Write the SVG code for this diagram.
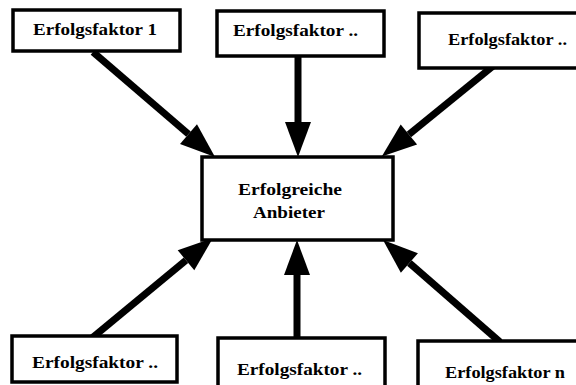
<svg xmlns="http://www.w3.org/2000/svg" width="576" height="385" viewBox="0 0 576 385">
  <style>
    .box { fill: #ffffff; stroke: #000000; stroke-width: 3.5; }
    .lbl { font-family: "Liberation Serif", "DejaVu Serif", serif; font-size: 16px; font-weight: bold; fill: #000000; }
    .arrow { stroke: #000000; stroke-width: 7; fill: none; marker-end: url(#head); }
  </style>
  <defs>
    <marker id="head" markerUnits="userSpaceOnUse" markerWidth="36" markerHeight="27" refX="0" refY="13" orient="auto" overflow="visible">
      <path d="M0,0 L35,13 L0,26 Z" fill="#000000"/>
    </marker>
  </defs>
  <rect width="576" height="385" fill="#ffffff"/>

  <g id="connectors">
    <line class="arrow" x1="93" y1="52" x2="188.5" y2="134.2"/>
    <line class="arrow" x1="298" y1="57" x2="298" y2="122"/>
    <line class="arrow" x1="498" y1="62" x2="408.9" y2="134.5"/>
    <line class="arrow" x1="92" y1="338" x2="186" y2="260.3"/>
    <line class="arrow" x1="297" y1="338" x2="297" y2="275"/>
    <line class="arrow" x1="500" y1="342" x2="409.4" y2="263"/>
  </g>

  <g id="faktor-1">
    <rect class="box" x="13" y="10" width="167" height="41"/>
    <text class="lbl" x="33" y="35" textLength="124" lengthAdjust="spacingAndGlyphs">Erfolgsfaktor 1</text>
  </g>
  <g id="faktor-2">
    <rect class="box" x="217" y="11" width="167" height="45"/>
    <text class="lbl" x="233" y="36" textLength="125" lengthAdjust="spacingAndGlyphs">Erfolgsfaktor ..</text>
  </g>
  <g id="faktor-3">
    <rect class="box" x="419" y="13" width="165" height="55"/>
    <text class="lbl" x="448" y="45" textLength="119" lengthAdjust="spacingAndGlyphs">Erfolgsfaktor ..</text>
  </g>

  <g id="anbieter">
    <rect class="box" x="202" y="157" width="191" height="83"/>
    <text class="lbl" x="238" y="195" textLength="104" lengthAdjust="spacingAndGlyphs">Erfolgreiche</text>
    <text class="lbl" x="253" y="218" textLength="72" lengthAdjust="spacingAndGlyphs">Anbieter</text>
  </g>

  <g id="faktor-4">
    <rect class="box" x="12" y="336" width="165" height="46"/>
    <text class="lbl" x="32" y="368" textLength="126" lengthAdjust="spacingAndGlyphs">Erfolgsfaktor ..</text>
  </g>
  <g id="faktor-5">
    <rect class="box" x="218" y="338" width="167" height="52"/>
    <text class="lbl" x="237" y="375" textLength="125" lengthAdjust="spacingAndGlyphs">Erfolgsfaktor ..</text>
  </g>
  <g id="faktor-n">
    <rect class="box" x="418" y="341" width="166" height="52"/>
    <text class="lbl" x="445" y="378" textLength="120" lengthAdjust="spacingAndGlyphs">Erfolgsfaktor n</text>
  </g>
</svg>
